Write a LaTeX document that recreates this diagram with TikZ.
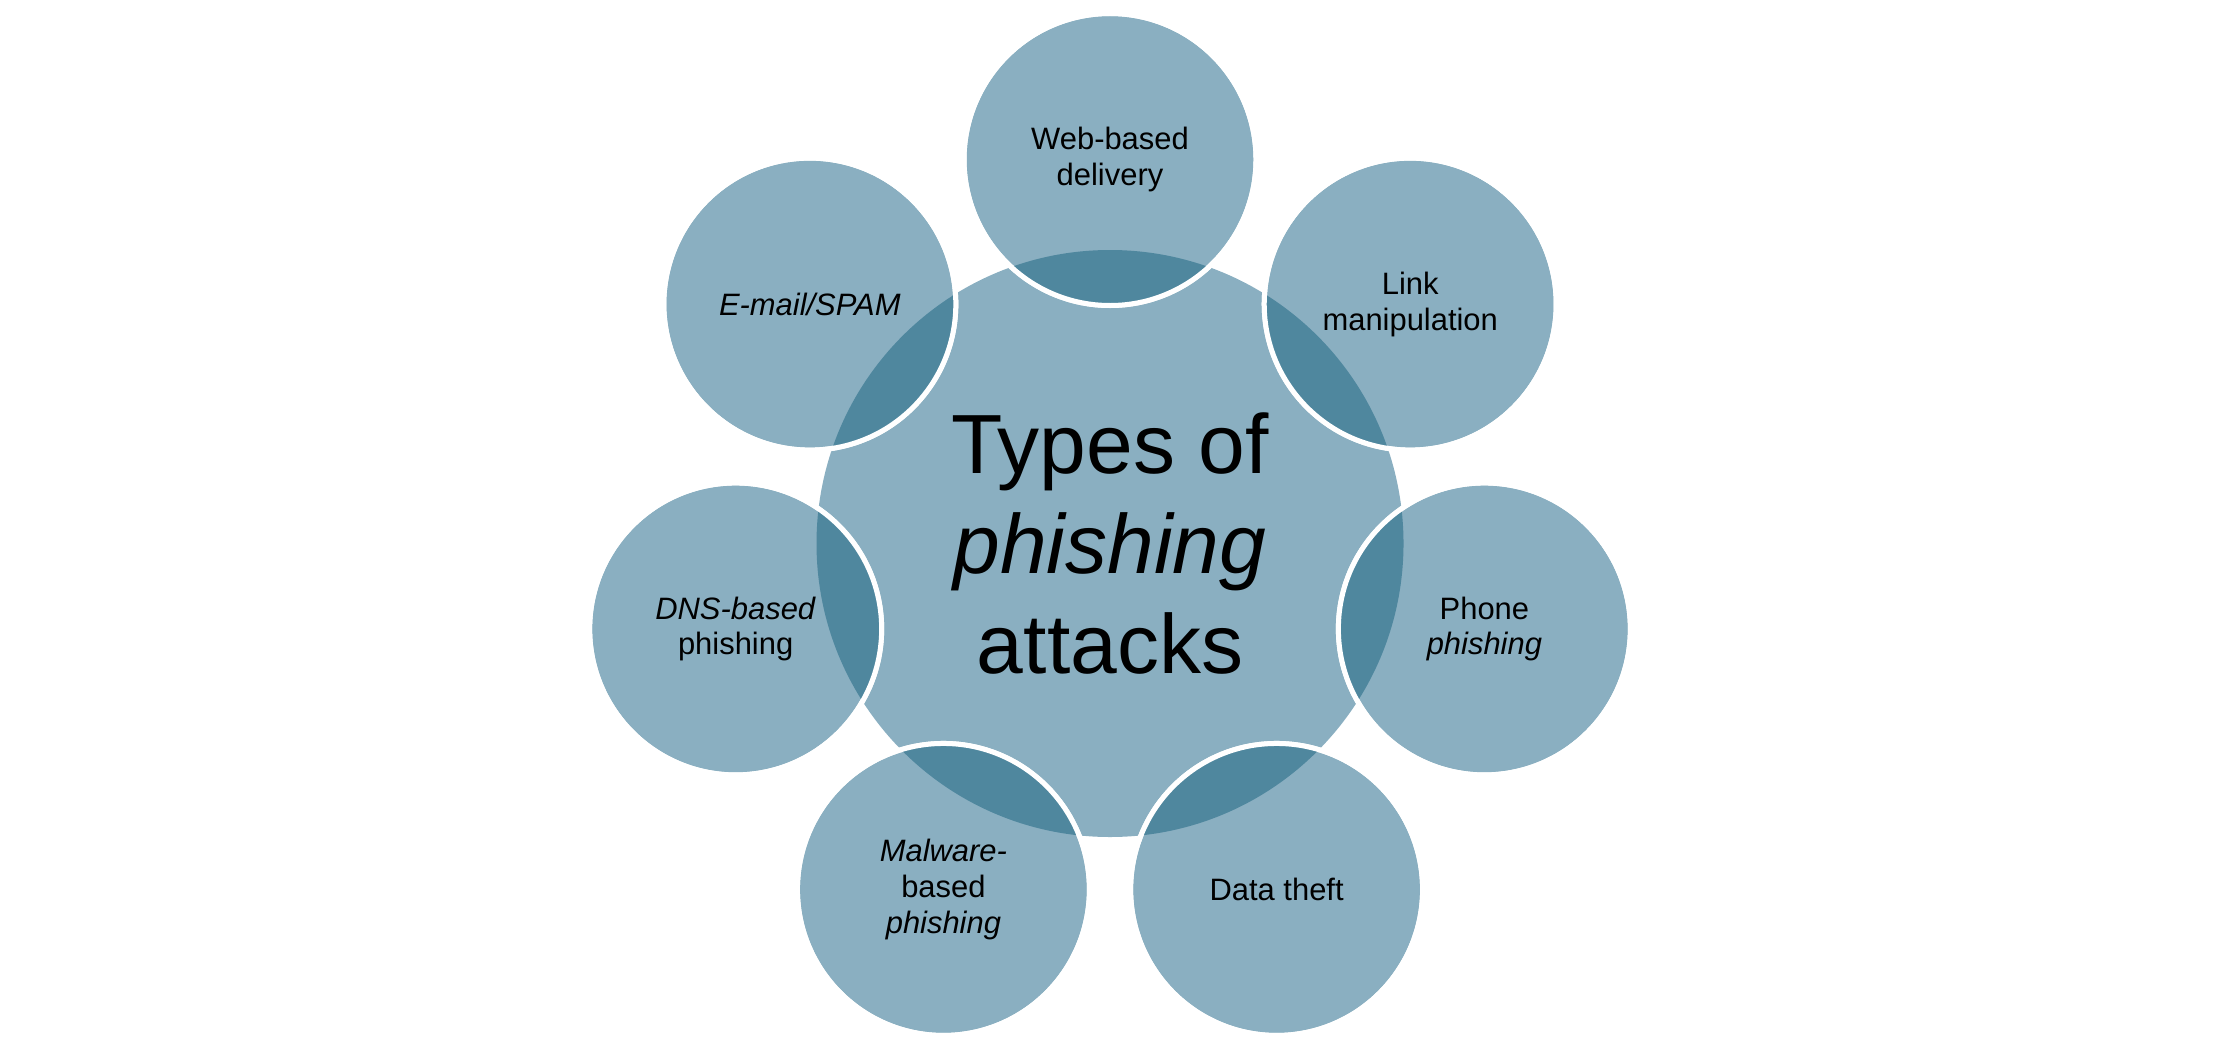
\documentclass[tikz,border=0pt]{standalone}
\usepackage{fontspec}
\setmainfont{Liberation Sans}
\usetikzlibrary{calc}
\definecolor{lightblue}{RGB}{138,175,193}
\definecolor{darkblue}{RGB}{79,135,158}
\tikzset{
  hub/.style={circle, fill=lightblue, draw=none, minimum size=5.87cm, inner sep=0pt, align=center,
    font=\fontsize{23.9}{28.45}\selectfont},
  petal/.style={circle, fill=lightblue, draw=white, line width=0.05cm, minimum size=2.92cm, inner sep=0pt, align=center,
    font=\fontsize{8.8}{10.2}\selectfont},
  rim/.style={draw=white, line width=0.05cm},
}
\begin{document}
\begin{tikzpicture}
\useasboundingbox (0,0) rectangle (22.21,-10.48);
\node[hub] (c) at (11.10,-5.435) {Types of\\\textit{phishing}\\attacks};
\node[petal] (p0) at ($(c.center)+(90:3.84)$) {Web-based\\delivery};
\node[petal] (p1) at ($(c.center)+(38.571:3.84)$) {Link\\manipulation};
\node[petal] (p2) at ($(c.center)+(-12.857:3.84)$) {Phone\\\textit{phishing}};
\node[petal] (p3) at ($(c.center)+(-64.286:3.84)$) {Data theft};
\node[petal] (p4) at ($(c.center)+(-115.714:3.84)$) {\textit{Malware-}\\based\\\textit{phishing}};
\node[petal] (p5) at ($(c.center)+(-167.143:3.84)$) {\textit{DNS-based}\\phishing};
\node[petal] (p6) at ($(c.center)+(141.429:3.84)$) {\textit{E-mail/SPAM}};
\begin{scope}
  \clip (c.center) circle (2.935);
  \foreach \n in {p0,p1,p2,p3,p4,p5,p6} {
    \fill[darkblue] (\n.center) circle (1.46);
  }
\end{scope}
\foreach \n in {p0,p1,p2,p3,p4,p5,p6} {
  \draw[rim] (\n.center) circle (1.46);
}
\end{tikzpicture}
\end{document}
